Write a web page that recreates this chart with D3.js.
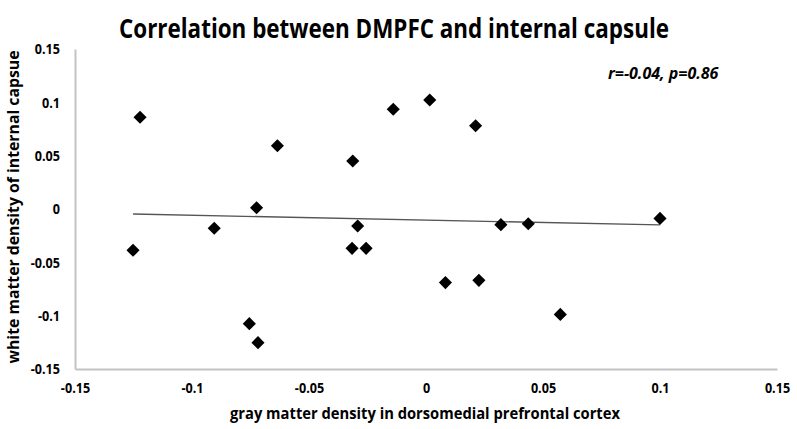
<!DOCTYPE html>
<html>
<head>
<meta charset="utf-8">
<script src="https://cdn.jsdelivr.net/npm/d3@7"></script>
<style>
  html, body { margin: 0; padding: 0; background: #ffffff; }
  svg { display: block; }
  text { font-family: "Open Sans", "DejaVu Sans", sans-serif; fill: #000; }
</style>
</head>
<body>
<svg id="chart" width="797" height="429"></svg>
<script>
// ---- data ----
const grayMatter = [-0.1222, -0.0635, -0.0313, -0.0140, -0.0724, -0.0905, -0.1252, -0.0292, -0.0316, -0.0256,
                    -0.0755, -0.0718, 0.0016, 0.0212, 0.0320, 0.0437, 0.1000, 0.0083, 0.0226, 0.0574];
const whiteMatter = [0.0860, 0.0593, 0.0450, 0.0935, 0.0012, -0.0181, -0.0387, -0.0160, -0.0369, -0.0369,
                     -0.1075, -0.1253, 0.1022, 0.0780, -0.0147, -0.0138, -0.0088, -0.0690, -0.0669, -0.0988];
const xTicks = [-0.15, -0.1, -0.05, 0, 0.05, 0.1, 0.15];
const yTicks = [-0.15, -0.1, -0.05, 0, 0.05, 0.1, 0.15];
const xTickLabels = ["-0.15", "-0.1", "-0.05", "0", "0.05", "0.1", "0.15"];
const yTickLabels = ["-0.15", "-0.1", "-0.05", "0", "0.05", "0.1", "0.15"];
const xDomain = [-0.15, 0.15];
const yDomain = [-0.15, 0.15];
const titleText = "Correlation between DMPFC and internal capsule";
const xLabelText = "gray matter density in dorsomedial prefrontal cortex";
const yLabelText = "white matter density of internal capsue";
const statText = "r=-0.04, p=0.86";

const points = grayMatter.map((x, i) => ({ x, y: whiteMatter[i] }));

// ---- layout ----
const svg = d3.select("#chart");
const plot = { left: 75, right: 777, top: 49, bottom: 369 };

const x = d3.scaleLinear().domain(xDomain).range([plot.left, plot.right]);
const y = d3.scaleLinear().domain(yDomain).range([plot.bottom, plot.top]);

// axes (Excel-style: light grey lines, no ticks)
const xAxis = d3.axisBottom(x).tickValues(xTicks).tickSize(0).tickPadding(0)
  .tickFormat((d, i) => xTickLabels[i]);
const yAxis = d3.axisLeft(y).tickValues(yTicks).tickSize(0).tickPadding(0)
  .tickFormat((d, i) => yTickLabels[i]);

const gx = svg.append("g").attr("transform", `translate(0,${plot.bottom})`).call(xAxis);
gx.select(".domain").attr("stroke", "#c3c3c3").attr("stroke-width", 2);
gx.selectAll(".tick text")
  .attr("y", 24).attr("dy", 0)
  .attr("font-family", "Open Sans").attr("font-weight", "bold").attr("font-size", 14).attr("fill", "#000")
  .each(function () { const w = this.getComputedTextLength(); d3.select(this).attr("textLength", w * 0.9).attr("lengthAdjust", "spacingAndGlyphs"); });

const gy = svg.append("g").attr("transform", `translate(${plot.left},0)`).call(yAxis);
gy.select(".domain").attr("stroke", "#c3c3c3").attr("stroke-width", 2);
gy.selectAll(".tick text")
  .attr("x", -15).attr("dy", "0.35em")
  .attr("font-family", "Open Sans").attr("font-weight", "bold").attr("font-size", 14).attr("fill", "#000")
  .each(function () { const w = this.getComputedTextLength(); d3.select(this).attr("textLength", w * 0.9).attr("lengthAdjust", "spacingAndGlyphs"); });

// linear trend line (least squares through the points)
const mx = d3.mean(points, d => d.x), my = d3.mean(points, d => d.y);
const slope = d3.sum(points, d => (d.x - mx) * (d.y - my)) / d3.sum(points, d => (d.x - mx) ** 2);
const intercept = my - slope * mx;
const xExt = d3.extent(points, d => d.x);
svg.append("line")
  .attr("x1", x(xExt[0])).attr("y1", y(intercept + slope * xExt[0]))
  .attr("x2", x(xExt[1])).attr("y2", y(intercept + slope * xExt[1]))
  .attr("stroke", "#555").attr("stroke-width", 1.3);

// diamond markers
const diamond = d3.symbol().type(d3.symbolSquare).size(86);
svg.append("g").selectAll("path").data(points).join("path")
  .attr("d", diamond)
  .attr("transform", d => `translate(${x(d.x)},${y(d.y)}) rotate(45)`)
  .attr("fill", "#000");

// title
svg.append("text")
  .attr("x", 394).attr("y", 38).attr("text-anchor", "middle")
  .attr("font-weight", "bold").attr("font-size", 26)
  .attr("textLength", 550).attr("lengthAdjust", "spacingAndGlyphs").text(titleText);

// x axis label
svg.append("text")
  .attr("x", 425).attr("y", 419).attr("text-anchor", "middle")
  .attr("font-weight", "bold").attr("font-size", 16)
  .attr("textLength", 390).attr("lengthAdjust", "spacingAndGlyphs").text(xLabelText);

// y axis label
svg.append("text")
  .attr("transform", "translate(19,207) rotate(-90)").attr("text-anchor", "middle")
  .attr("font-weight", "bold").attr("font-size", 16)
  .attr("textLength", 313).attr("lengthAdjust", "spacingAndGlyphs").text(yLabelText);

// stats annotation
svg.append("text")
  .attr("x", 608).attr("y", 79)
  .attr("font-weight", "bold").attr("font-style", "italic").attr("font-size", 16)
  .text(statText);
</script>
</body>
</html>
